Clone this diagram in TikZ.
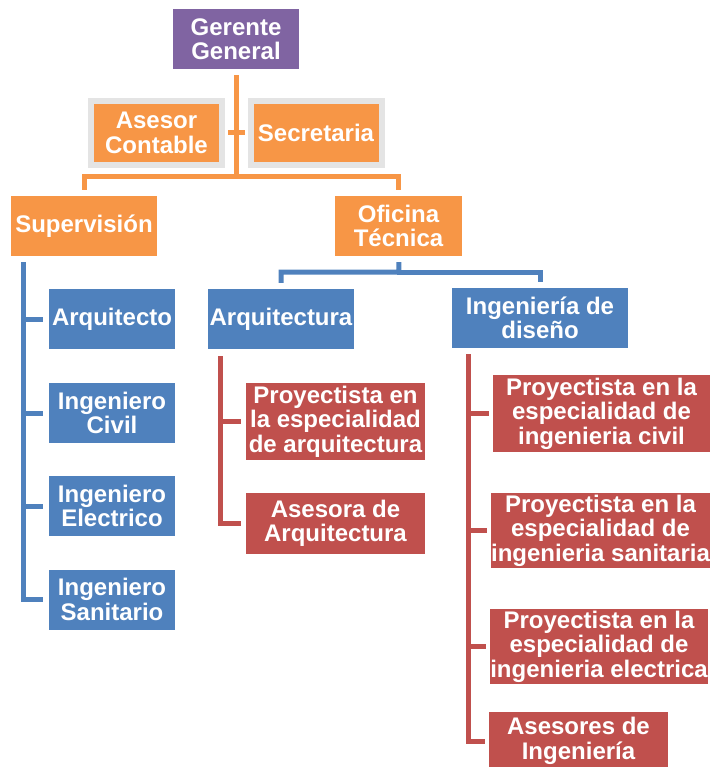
\documentclass[tikz,border=0pt]{standalone}
\usepackage{fontspec}
\setmainfont{Liberation Sans}
\definecolor{gpurple}{HTML}{8064A2}
\definecolor{gorange}{HTML}{F79646}
\definecolor{gblue}{HTML}{4F81BD}
\definecolor{gred}{HTML}{C0504D}
\definecolor{gframe}{HTML}{E4E4E4}

\begin{document}
\begin{tikzpicture}[x=1pt, y=-1pt,
    box/.style={rectangle, inner sep=0pt, align=center, text=white,
        font=\fontsize{24}{24.5}\selectfont\bfseries},
    link/.style={line width=5pt, shorten <=6pt, shorten >=6pt}]
    \useasboundingbox (0,0) rectangle (710,767);
    % Organigrama: gerencia, staff y areas
    \node[box, fill=gpurple, minimum width=126pt, minimum height=60pt] (gg) at (236,39) {Gerente\\General};
    \node[box, fill=gorange, draw=gframe, line width=6pt, minimum width=131pt, minimum height=64pt] (ac) at (156.5,133) {Asesor\\Contable};
    \node[box, fill=gorange, draw=gframe, line width=6pt, minimum width=131pt, minimum height=64pt] (sec) at (316,133) {Secretaria};
    \node[box, fill=gorange, minimum width=146pt, minimum height=60pt] (sup) at (84,226) {Supervisión};
    \node[box, fill=gorange, minimum width=127pt, minimum height=60pt] (of) at (398.5,226) {Oficina\\Técnica};

    % Supervision
    \node[box, fill=gblue, minimum width=126pt, minimum height=60pt] (arqt) at (112,319) {Arquitecto};
    \node[box, fill=gblue, minimum width=126pt, minimum height=60pt] (ic) at (112,413) {Ingeniero\\Civil};
    \node[box, fill=gblue, minimum width=126pt, minimum height=60pt] (ie) at (112,506) {Ingeniero\\Electrico};
    \node[box, fill=gblue, minimum width=126pt, minimum height=60pt] (is) at (112,599.5) {Ingeniero\\Sanitario};

    % Oficina tecnica
    \node[box, fill=gblue, minimum width=146pt, minimum height=60pt] (arq) at (281,319) {Arquitectura};
    \node[box, fill=gblue, minimum width=176pt, minimum height=60pt] (ing) at (540,318) {Ingeniería de\\diseño};
    \node[box, fill=gred, minimum width=179pt, minimum height=77pt] (pa) at (335.5,421.5) {Proyectista en\\la especialidad\\de arquitectura};
    \node[box, fill=gred, minimum width=179pt, minimum height=61pt] (aa) at (335.5,523.5) {Asesora de\\Arquitectura};
    \node[box, fill=gred, minimum width=217pt, minimum height=77pt] (pc) at (601.5,413.5) {Proyectista en la\\especialidad de\\ingenieria civil};
    \node[box, fill=gred, minimum width=219pt, minimum height=75pt] (ps) at (600.5,530.5) {Proyectista en la\\especialidad de\\ingenieria sanitaria};
    \node[box, fill=gred, minimum width=216pt, minimum height=75pt] (pe) at (599,646.5) {Proyectista en la\\especialidad de\\ingenieria electrica};
    \node[box, fill=gred, minimum width=179pt, minimum height=58pt] (ai) at (578.5,741) {Asesores de\\Ingeniería};

    \coordinate (gbus) at (236,177);
    \coordinate (obus) at (399,272);
    \coordinate (sv) at (23,256);
    \coordinate (av) at (220,349);
    \coordinate (iv) at (468,348);

    \draw[link, gorange, shorten <=3pt, shorten >=3pt] (ac) -- (sec);
    \draw[link, gorange] (gg) -- (gbus) -| (sup);
    \draw[link, gorange, shorten <=-2.5pt] (gbus) -| (of);
    \draw[link, gblue] (of) -- (obus) -| (arq);
    \draw[link, gblue, shorten <=-2.5pt] (obus) -| (ing);
    \foreach \n in {arqt, ic, ie, is}
        \draw[link, gblue] (sv) |- (\n);
    \foreach \n in {pa, aa}
        \draw[link, gred, shorten <=7pt, shorten >=5pt] (av) |- (\n);
    \foreach \n in {pc, ps, pe, ai}
        \draw[link, gred, shorten >=4pt] (iv) |- (\n);
\end{tikzpicture}
\end{document}
